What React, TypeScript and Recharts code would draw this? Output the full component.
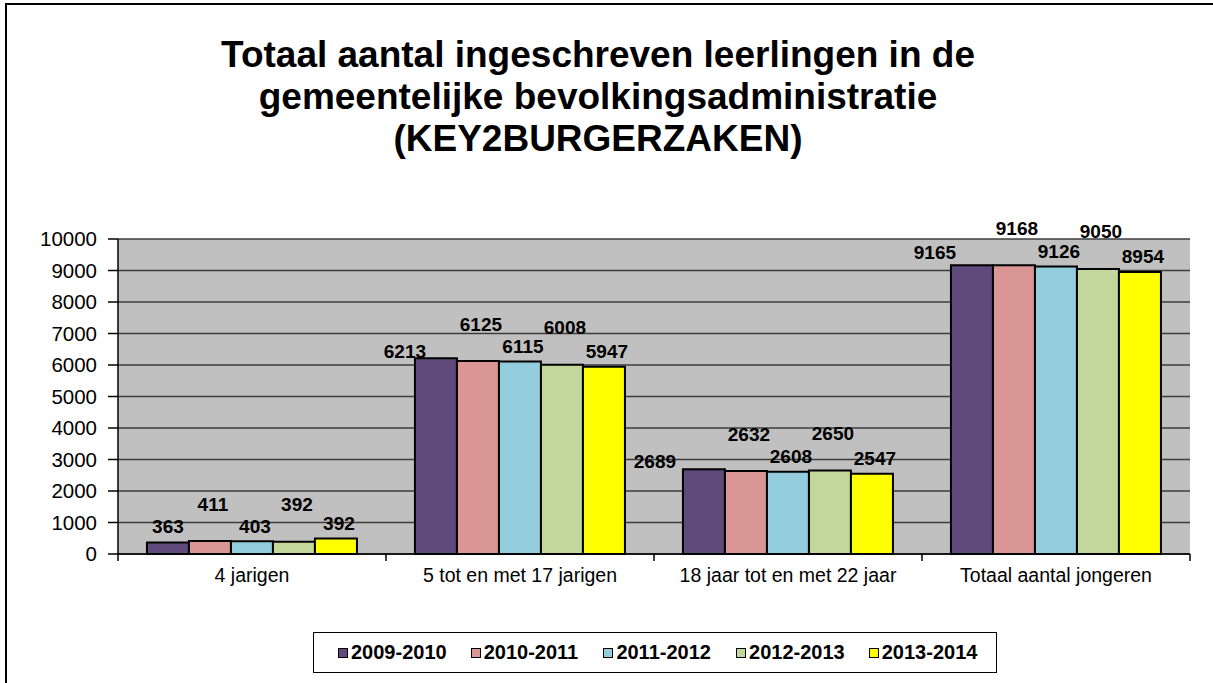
import { BarChart, Bar, XAxis, YAxis, CartesianGrid, LabelList } from "recharts";

const categories = [
  "4 jarigen",
  "5 tot en met 17 jarigen",
  "18 jaar tot en met 22 jaar",
  "Totaal aantal jongeren",
];

const years = ["2009-2010", "2010-2011", "2011-2012", "2012-2013", "2013-2014"];
const colors = ["#604A7B", "#DA9694", "#93CDDD", "#C3D69B", "#FFFF00"];

// bar heights as drawn
const s0910 = [363, 6213, 2689, 9165];
const s1011 = [411, 6125, 2632, 9168];
const s1112 = [403, 6115, 2608, 9126];
const s1213 = [392, 6008, 2650, 9050];
const s1314 = [495, 5947, 2547, 8954];

// numbers printed above the bars (the yellow 4-year bar is labelled 392)
const l1314 = [392, 5947, 2547, 8954];

const yTicks = [0, 1000, 2000, 3000, 4000, 5000, 6000, 7000, 8000, 9000, 10000];

const seriesValues = [s0910, s1011, s1112, s1213, s1314];
const seriesLabels = [s0910, s1011, s1112, s1213, l1314];

const data = categories.map((name, i) => {
  const row: Record<string, string | number> = { name };
  years.forEach((y, s) => {
    row[y] = seriesValues[s][i];
  });
  return row;
});

const W = 1213;
const H = 683;
const PLOT_LEFT = 118;
const PLOT_RIGHT = 1190;
const PLOT_TOP = 239;
const PLOT_BOTTOM = 554;
const BAND = (PLOT_RIGHT - PLOT_LEFT) / categories.length;
const FONT = "'Liberation Sans', Arial, sans-serif";

// Excel pushed the first series' labels aside in the big groups
const firstNudgeX = [0, -31, -49, -37];
const firstNudgeY = [16, 7, 8, 13];

const makeLabel = (si: number) => (props: any) => {
  const { x, y, width, index } = props;
  const raised = si === 1 || si === 3;
  const cx = Number(x) + Number(width) / 2 + (si === 0 ? firstNudgeX[index] : 3);
  const lift = si === 0 ? firstNudgeY[index] : raised ? 37 : 15;
  const cy = Number(y) - lift;
  return (
    <text
      x={cx}
      y={cy}
      textAnchor="middle"
      dominantBaseline="central"
      fontFamily={FONT}
      fontWeight="bold"
      fontSize={19}
      fill="#000"
    >
      {seriesLabels[si][index]}
    </text>
  );
};

const CategoryTick = (props: any) => {
  const { x, y, payload, index } = props;
  const last = index === categories.length - 1;
  return (
    <g>
      <line x1={x - BAND / 2} y1={PLOT_BOTTOM} x2={x - BAND / 2} y2={PLOT_BOTTOM + 7} stroke="#000" strokeWidth={1.5} />
      {last && (
        <line x1={x + BAND / 2} y1={PLOT_BOTTOM} x2={x + BAND / 2} y2={PLOT_BOTTOM + 7} stroke="#000" strokeWidth={1.5} />
      )}
      <text x={x} y={y} dy={20} textAnchor="middle" fontFamily={FONT} fontSize={19.5} fill="#000">
        {payload.value}
      </text>
    </g>
  );
};

export default function App() {
  return (
    <div
      style={{
        position: "absolute",
        left: 0,
        top: 0,
        width: W,
        height: H,
        overflow: "hidden",
        background: "#fff",
        fontFamily: FONT,
      }}
    >
      <div
        style={{
          position: "absolute",
          left: 5,
          top: 3,
          width: 1300,
          height: 800,
          border: "2px solid #000",
          boxSizing: "border-box",
        }}
      />
      <div
        style={{
          position: "absolute",
          left: 0,
          top: 34,
          width: 1196,
          textAlign: "center",
          fontWeight: "bold",
          fontSize: 37,
          lineHeight: "42px",
          color: "#000",
        }}
      >
        Totaal aantal ingeschreven leerlingen in de
        <br />
        gemeentelijke bevolkingsadministratie
        <br />
        (KEY2BURGERZAKEN)
      </div>

      <div style={{ position: "absolute", left: 0, top: 0 }}>
        <BarChart
          width={W}
          height={H}
          data={data}
          margin={{ top: PLOT_TOP, right: W - PLOT_RIGHT, left: 0, bottom: H - PLOT_BOTTOM - 40 }}
          barCategoryGap="10.8%"
          barGap={0}
        >
          <CartesianGrid
            vertical={false}
            fill="#C0C0C0"
            fillOpacity={1}
            stroke="#3c3c3c"
            strokeWidth={1.5}
          />
          <XAxis
            dataKey="name"
            height={40}
            interval={0}
            tickLine={false}
            axisLine={{ stroke: "#000", strokeWidth: 1.5 }}
            tick={<CategoryTick />}
          />
          <XAxis
            xAxisId="top"
            dataKey="name"
            orientation="top"
            height={0}
            tick={false}
            tickLine={false}
            axisLine={{ stroke: "#8c8c8c", strokeWidth: 1.5 }}
          />
          <YAxis
            width={PLOT_LEFT}
            domain={[0, 10000]}
            ticks={yTicks}
            interval={0}
            tickSize={10}
            tickMargin={11}
            tickLine={{ stroke: "#000", strokeWidth: 1.5 }}
            axisLine={{ stroke: "#000", strokeWidth: 1.5 }}
            tick={{ fill: "#000", fontSize: 20.5, fontFamily: FONT }}
          />
          <YAxis
            yAxisId="right"
            orientation="right"
            width={0}
            domain={[0, 10000]}
            tick={false}
            tickLine={false}
            axisLine={{ stroke: "#8c8c8c", strokeWidth: 1.5 }}
          />
          {years.map((y, si) => (
            <Bar
              key={y}
              dataKey={y}
              fill={colors[si]}
              stroke="#000"
              strokeWidth={2}
              isAnimationActive={false}
            >
              <LabelList dataKey={y} content={makeLabel(si)} />
            </Bar>
          ))}
        </BarChart>
      </div>

      <div
        style={{
          position: "absolute",
          left: 313,
          top: 632,
          width: 684,
          height: 41,
          border: "1.5px solid #000",
          boxSizing: "border-box",
          display: "flex",
          alignItems: "center",
          paddingLeft: 24,
        }}
      >
        {years.map((y, si) => (
          <div key={y} style={{ width: 132.7, display: "flex", alignItems: "center", flexShrink: 0 }}>
            <span
              style={{
                display: "inline-block",
                width: 8,
                height: 8,
                border: "1.5px solid #000",
                background: colors[si],
                marginRight: 3,
              }}
            />
            <span style={{ fontWeight: "bold", fontSize: 20, color: "#000" }}>{y}</span>
          </div>
        ))}
      </div>
    </div>
  );
}
